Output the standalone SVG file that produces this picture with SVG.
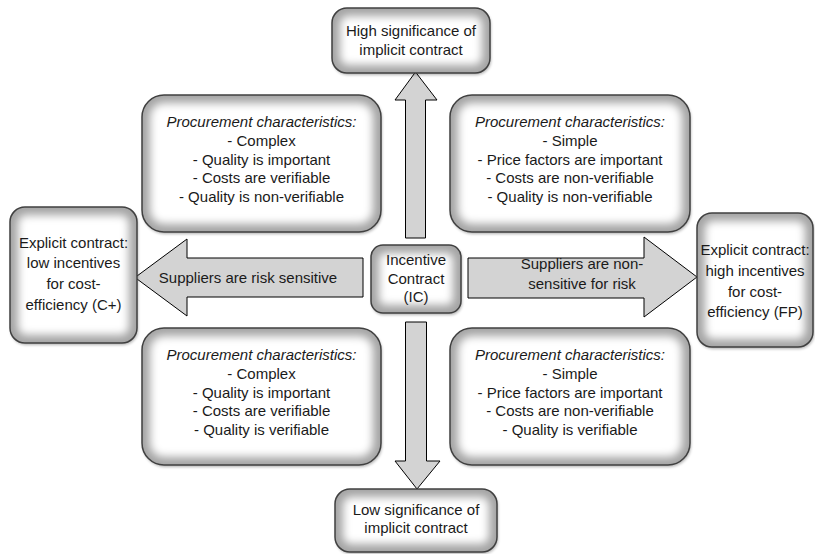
<svg xmlns="http://www.w3.org/2000/svg" width="815" height="554" viewBox="0 0 815 554">
<defs>
<filter id="soft" x="-20%" y="-20%" width="140%" height="140%">
  <feGaussianBlur stdDeviation="4"/>
</filter>
<filter id="shblur" x="-10%" y="-10%" width="120%" height="120%">
  <feGaussianBlur stdDeviation="1.5"/>
</filter>
</defs>
<style>
.shadow{fill:#000;opacity:0.3;filter:url(#shblur)}
.base{fill:#a4a4a4}
.glow{fill:#ffffff;filter:url(#soft)}
.edge{fill:none;stroke:#404040;stroke-width:1.5}
.arrow{fill:#d3d3d3;stroke:#000;stroke-width:1}
text{font-family:"Liberation Sans",Arial,sans-serif;font-size:15px;fill:#1a1a1a;text-anchor:middle}
.it{font-style:italic}
</style>

<g id="connectors">
  <polygon id="arrow-up" class="arrow" points="415.5,72 437,100 425.5,100 425.5,238 405.5,238 405.5,100 395,100"/>
  <polygon id="arrow-down" class="arrow" points="405.5,322 426.5,322 426.5,461 440,461 417,489 395,461 405.5,461"/>
  <polygon id="arrow-left" class="arrow" points="135,277.5 187,239 187,258 363,258 363,297 187,297 187,316"/>
  <text x="248" y="283">Suppliers are risk sensitive</text>
  <polygon id="arrow-right" class="arrow" points="468,258 644,258 644,237 697,277 644,317 644,298 468,298"/>
  <text x="582" y="269">Suppliers are non-</text>
  <text x="582" y="289">sensitive for risk</text>
</g>

<g id="high">
  <rect class="shadow" x="333" y="10" width="158" height="65" rx="15"/>
  <rect class="base" x="332" y="8" width="158" height="65" rx="15"/>
  <rect class="glow" x="340" y="16" width="142" height="49" rx="8"/>
  <rect class="edge" x="332" y="8" width="158" height="65" rx="15"/>
  <text x="411" y="36">High significance of</text>
  <text x="411" y="55">implicit contract</text>
</g>

<g id="low">
  <rect class="shadow" x="336" y="491" width="162" height="63" rx="15"/>
  <rect class="base" x="335" y="489" width="162" height="63" rx="15"/>
  <rect class="glow" x="343" y="497" width="146" height="47" rx="8"/>
  <rect class="edge" x="335" y="489" width="162" height="63" rx="15"/>
  <text x="416" y="515">Low significance of</text>
  <text x="416" y="533">implicit contract</text>
</g>

<g id="center">
  <rect class="shadow" x="372" y="247" width="90" height="68" rx="12"/>
  <rect class="base" x="371" y="245" width="90" height="68" rx="12"/>
  <rect class="glow" x="379" y="253" width="74" height="52" rx="6"/>
  <rect class="edge" x="371" y="245" width="90" height="68" rx="12"/>
  <text x="416" y="265">Incentive</text>
  <text x="416" y="284">Contract</text>
  <text x="416" y="302">(IC)</text>
</g>

<g id="explicit-low">
  <rect class="shadow" x="11" y="209" width="127" height="136" rx="15"/>
  <rect class="base" x="10" y="207" width="127" height="136" rx="15"/>
  <rect class="glow" x="18" y="215" width="111" height="120" rx="8"/>
  <rect class="edge" x="10" y="207" width="127" height="136" rx="15"/>
  <text x="73.5" y="248">Explicit contract:</text>
  <text x="73.5" y="268">low incentives</text>
  <text x="73.5" y="289">for cost-</text>
  <text x="73.5" y="310">efficiency (C+)</text>
</g>

<g id="explicit-high">
  <rect class="shadow" x="698" y="215" width="116" height="134" rx="15"/>
  <rect class="base" x="697" y="213" width="116" height="134" rx="15"/>
  <rect class="glow" x="705" y="221" width="100" height="118" rx="8"/>
  <rect class="edge" x="697" y="213" width="116" height="134" rx="15"/>
  <text x="755" y="255">Explicit contract:</text>
  <text x="755" y="276">high incentives</text>
  <text x="755" y="297">for cost-</text>
  <text x="755" y="317">efficiency (FP)</text>
</g>

<g id="q-top-left">
  <rect class="shadow" x="143" y="97" width="239" height="137" rx="22"/>
  <rect class="base" x="142" y="95" width="239" height="137" rx="22"/>
  <rect class="glow" x="150" y="103" width="223" height="121" rx="14"/>
  <rect class="edge" x="142" y="95" width="239" height="137" rx="22"/>
  <text class="it" x="261.5" y="127">Procurement characteristics:</text>
  <text x="261.5" y="146">- Complex</text>
  <text x="261.5" y="165">- Quality is important</text>
  <text x="261.5" y="183">- Costs are verifiable</text>
  <text x="261.5" y="202">- Quality is non-verifiable</text>
</g>

<g id="q-top-right">
  <rect class="shadow" x="451" y="97" width="240" height="137" rx="22"/>
  <rect class="base" x="450" y="95" width="240" height="137" rx="22"/>
  <rect class="glow" x="458" y="103" width="224" height="121" rx="14"/>
  <rect class="edge" x="450" y="95" width="240" height="137" rx="22"/>
  <text class="it" x="570" y="127">Procurement characteristics:</text>
  <text x="570" y="146">- Simple</text>
  <text x="570" y="165">- Price factors are important</text>
  <text x="570" y="183">- Costs are non-verifiable</text>
  <text x="570" y="202">- Quality is non-verifiable</text>
</g>

<g id="q-bottom-left">
  <rect class="shadow" x="143" y="330" width="239" height="137" rx="22"/>
  <rect class="base" x="142" y="328" width="239" height="137" rx="22"/>
  <rect class="glow" x="150" y="336" width="223" height="121" rx="14"/>
  <rect class="edge" x="142" y="328" width="239" height="137" rx="22"/>
  <text class="it" x="261.5" y="360">Procurement characteristics:</text>
  <text x="261.5" y="379">- Complex</text>
  <text x="261.5" y="398">- Quality is important</text>
  <text x="261.5" y="416">- Costs are verifiable</text>
  <text x="261.5" y="435">- Quality is verifiable</text>
</g>

<g id="q-bottom-right">
  <rect class="shadow" x="451" y="330" width="240" height="137" rx="22"/>
  <rect class="base" x="450" y="328" width="240" height="137" rx="22"/>
  <rect class="glow" x="458" y="336" width="224" height="121" rx="14"/>
  <rect class="edge" x="450" y="328" width="240" height="137" rx="22"/>
  <text class="it" x="570" y="360">Procurement characteristics:</text>
  <text x="570" y="379">- Simple</text>
  <text x="570" y="398">- Price factors are important</text>
  <text x="570" y="416">- Costs are non-verifiable</text>
  <text x="570" y="435">- Quality is verifiable</text>
</g>
</svg>
